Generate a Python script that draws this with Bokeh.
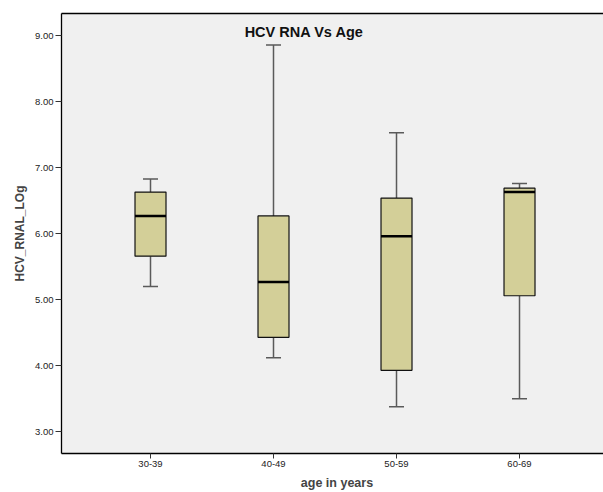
from bokeh.plotting import figure
from bokeh.models import (ColumnDataSource, FixedTicker, NumeralTickFormatter,
                          Label, Range1d, LinearAxis)
from bokeh.embed import file_html
from bokeh.resources import INLINE

# ---- data ----
categories = ["30-39", "40-49", "50-59", "60-69"]
whisker_low = [5.20, 4.12, 3.38, 3.50]
q1 = [5.66, 4.43, 3.93, 5.06]
median = [6.27, 5.27, 5.96, 6.63]
q3 = [6.63, 6.27, 6.54, 6.69]
whisker_high = [6.83, 8.86, 7.53, 6.76]
y_ticks = [3, 4, 5, 6, 7, 8, 9]

idx = list(range(len(categories)))
box_w = 0.252
cap_w = 0.122

src = ColumnDataSource(dict(
    x=idx, lo=whisker_low, q1=q1, med=median, q3=q3, hi=whisker_high,
    bx0=[i - box_w / 2 for i in idx], bx1=[i + box_w / 2 for i in idx],
    cx0=[i - cap_w / 2 for i in idx], cx1=[i + cap_w / 2 for i in idx],
))

p = figure(width=612, height=492, output_backend="svg", toolbar_location=None,
           x_range=Range1d(-0.7236, 3.756), y_range=Range1d(2.67, 9.336),
           min_border_left=61, min_border_right=0, min_border_top=13,
           min_border_bottom=37)
p.background_fill_color = "#F0F0F0"
p.border_fill_color = "white"
p.outline_line_color = None
p.xgrid.visible = False
p.ygrid.visible = False

# whiskers
whisk_col = "#5a5a5a"
p.segment(x0="x", y0="q3", x1="x", y1="hi", source=src, line_color=whisk_col, line_width=1.5)
p.segment(x0="x", y0="q1", x1="x", y1="lo", source=src, line_color=whisk_col, line_width=1.5)
p.segment(x0="cx0", y0="hi", x1="cx1", y1="hi", source=src, line_color=whisk_col, line_width=1.5)
p.segment(x0="cx0", y0="lo", x1="cx1", y1="lo", source=src, line_color=whisk_col, line_width=1.5)

# boxes
p.vbar(x="x", bottom="q1", top="q3", width=box_w, source=src,
       fill_color="#D3CF98", line_color="#111111", line_width=1.2)
p.segment(x0="bx0", y0="med", x1="bx1", y1="med", source=src,
          line_color="black", line_width=2.5)

# axes
font = "Liberation Sans"
ax = p.xaxis[0]
ax.ticker = FixedTicker(ticks=idx)
ax.major_label_overrides = {i: c for i, c in zip(idx, categories)}
ax.minor_tick_line_color = None
ax.major_tick_out = 5
ax.major_tick_in = 0
ax.major_label_standoff = 2
ax.axis_line_color = "black"
ax.axis_line_width = 1.3
ax.major_tick_line_color = "#333333"
ax.major_label_text_font = font
ax.major_label_text_font_size = "9.5px"
ax.major_label_text_color = "#222222"
ax.axis_label = "age in years"
ax.axis_label_text_font = font
ax.axis_label_text_font_style = "bold"
ax.axis_label_text_font_size = "12.5px"
ax.axis_label_standoff = 6

ay = p.yaxis[0]
ay.ticker = FixedTicker(ticks=y_ticks)
ay.formatter = NumeralTickFormatter(format="0.00")
ay.minor_tick_line_color = None
ay.major_tick_out = 6
ay.major_tick_in = 0
ay.major_label_standoff = 2
ay.axis_line_color = "black"
ay.axis_line_width = 1.3
ay.major_tick_line_color = "#333333"
ay.major_label_text_font = font
ay.major_label_text_font_size = "9.5px"
ay.major_label_text_color = "#222222"
ay.axis_label = "HCV_RNAL_LOg"
ay.axis_label_text_font = font
ay.axis_label_text_font_style = "bold"
ay.axis_label_text_font_size = "12px"
ay.axis_label_standoff = 5

top_axis = LinearAxis(ticker=FixedTicker(ticks=[]), major_tick_line_color=None,
                      minor_tick_line_color=None, axis_line_color="black",
                      axis_line_width=1.3, major_label_standoff=0)
p.add_layout(top_axis, "above")

p.add_layout(Label(x=1.25, y=9.05, text="HCV RNA Vs Age", text_font=font,
                   text_font_style="bold", text_font_size="14.5px",
                   text_align="center", text_baseline="middle", text_color="#111111"))

open("out.html", "w").write(file_html(p, INLINE))
